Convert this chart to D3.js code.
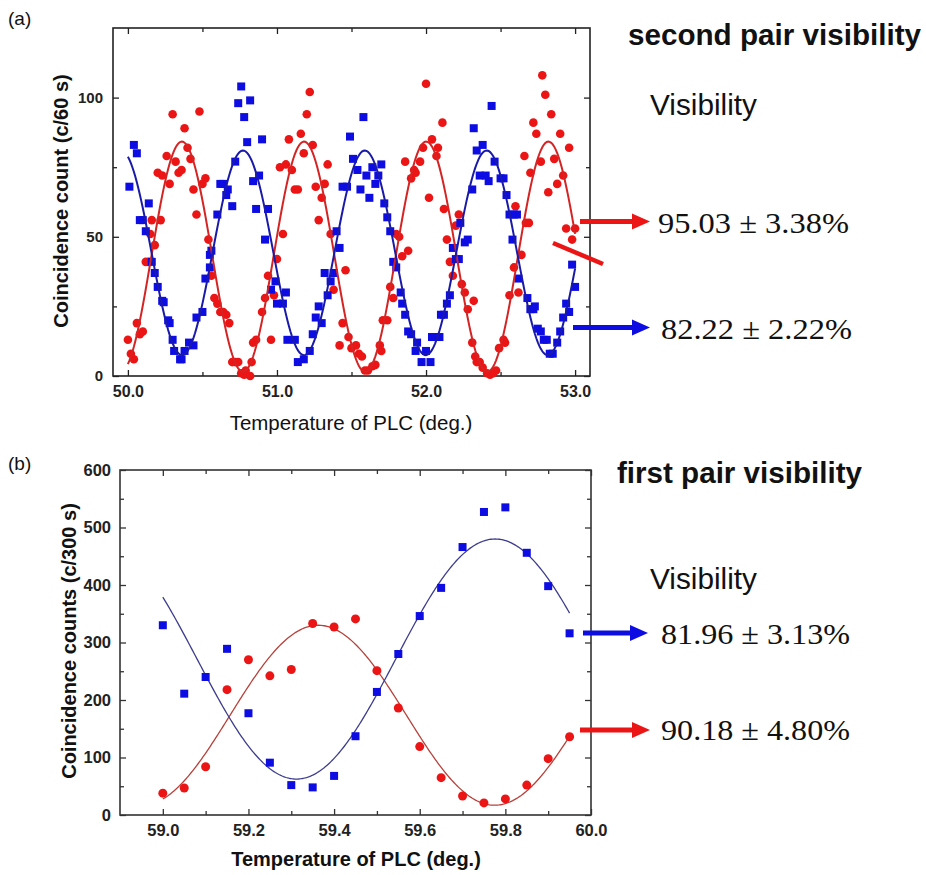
<!DOCTYPE html>
<html><head><meta charset="utf-8">
<script src="https://cdn.jsdelivr.net/npm/d3@7"></script>
<style>body{margin:0;background:#fff}svg{display:block}</style>
</head><body>
<svg id="c" width="926" height="875"></svg>
<script>
// ---------- Panel (a) data: [temperature, counts per 60 s] ----------
const aBlue = [[50.01,68],[50.04,83],[50.06,80],[50.08,56],[50.10,56],[50.12,52],[50.14,62],[50.16,41],[50.18,37],[50.20,32],[50.23,27],[50.24,26.5],[50.27,20],[50.28,19],[50.30,13],[50.31,9],[50.35,6],[50.36,6],[50.38,9],[50.41,12],[50.44,11],[50.46,21],[50.50,23],[50.52,35],[50.55,43.5],[50.55,39],[50.56,45],[50.60,58],[50.62,69],[50.64,69],[50.66,65],[50.67,67],[50.70,61],[50.72,77],[50.74,98],[50.76,104],[50.78,93],[50.80,84],[50.82,99],[50.84,70],[50.86,60],[50.88,72],[50.90,85],[50.92,49],[50.94,60],[50.96,31],[50.99,34],[51.00,26],[51.04,26],[51.06,30],[51.07,13],[51.12,13],[51.14,5],[51.18,6],[51.22,9],[51.24,15],[51.26,21],[51.28,25],[51.30,19],[51.32,37],[51.34,29],[51.36,34],[51.38,37],[51.40,52],[51.42,46],[51.44,68],[51.47,68],[51.49,86],[51.51,78],
[51.54,74],[51.56,67],[51.58,93],[51.60,72],[51.62,64],[51.64,75],[51.66,69],[51.68,72],[51.70,76],[51.72,62],[51.74,57],[51.76,52],[51.78,41],[51.80,39],[51.83,30],[51.84,26],[51.86,22],[51.88,16],[51.90,15],[51.93,9],[51.94,12],[51.97,5],[52.00,9],[52.03,5],[52.04,14],[52.06,14],[52.09,14],[52.10,22],[52.12,22],[52.14,26],[52.16,29],[52.18,46],[52.20,42],[52.22,42],[52.23,55],[52.26,48],[52.28,49],[52.31,67],[52.32,89],[52.34,81],[52.36,72],[52.38,83],[52.40,72],[52.42,70],[52.44,97],[52.46,77],[52.50,71],[52.52,71],[52.54,65],[52.56,58],[52.58,49],[52.59,58],[52.61,58],[52.62,35],[52.68,28],[52.70,24],[52.72,24],[52.73,25],[52.75,17],[52.77,16],[52.79,13],[52.81,13],[52.83,8],[52.85,8],[52.88,12],[52.90,16],[52.92,21],[52.94,26],[52.96,23],[52.98,40],[53.00,32]];

const aRed = [[50.00,13],[50.02,8],[50.04,6],[50.06,19],[50.08,15],[50.10,16],[50.12,41],[50.14,41],[50.15,51],[50.16,56],[50.18,47],[50.20,73],[50.22,56],[50.23,72],[50.26,79],[50.28,69],[50.30,94],[50.32,77],[50.34,73],[50.36,74],[50.38,89],[50.40,82],[50.42,78],[50.44,67],[50.46,58],[50.48,95],[50.50,69],[50.52,71],[50.54,49],[50.56,36],[50.58,28],[50.60,26],[50.62,23],[50.64,23],[50.66,22],[50.68,19],[50.70,5],[50.72,5],[50.74,5],[50.76,1],[50.78,0.5],[50.79,2],[50.82,0],[50.83,5],[50.84,12],[50.86,13],[50.90,23],[50.92,28],[50.94,36],[50.96,13],[50.98,29],[51.00,42],[51.02,75],[51.04,51],[51.06,76],[51.08,85],[51.10,74],[51.12,67],[51.14,67],[51.16,87],[51.18,80],[51.20,94],[51.22,102],[51.24,83],[51.26,68],[51.28,56],[51.30,64],[51.32,69],[51.34,76],[51.36,51],[51.38,31],[51.42,11],[51.44,19],[51.46,38],[51.48,14],[51.50,10],
[51.53,11],[51.55,8],[51.57,7],[51.59,2],[51.61,2],[51.64,3.5],[51.66,4],[51.69,11],[51.70,9],[51.71,20],[51.74,20],[51.76,32],[51.78,28],[51.80,51],[51.82,50],[51.84,43],[51.86,77],[51.88,45],[51.90,71],[51.92,74],[51.93,73],[51.96,77],[51.98,82],[52.00,105],[52.02,64],[52.04,85],[52.07,79],[52.08,82],[52.11,91],[52.12,60],[52.14,49],[52.16,41],[52.18,36],[52.20,54],[52.22,58],[52.24,33],[52.26,30],[52.28,24],[52.31,12],[52.32,27],[52.33,7],[52.34,5],[52.36,5],[52.38,3],[52.41,1],[52.43,0.5],[52.45,1],[52.47,2],[52.49,10],[52.52,13],[52.53,12],[52.56,29],[52.59,39],[52.60,61],[52.62,30],[52.64,43.5],[52.66,79],[52.67,55],[52.69,55],[52.70,73],[52.72,91],[52.74,87],[52.77,77],[52.78,108],[52.80,101],[52.82,66],[52.84,94],[52.86,78],[52.88,69],[52.90,87],[52.92,72],[52.94,53],[52.96,82],[52.98,49],[53.00,53]];

// Fit parameters (sinusoidal fits)
const aFitRed  = {peak: 50.362, period: 0.8197, max: 84.2, min: 1.5, from: 50.0, to: 53.0};
const aFitBlue = {peak: 50.772, period: 0.8175, max: 81.0, min: 7.5, from: 50.0, to: 53.0};

const aXTicks = [50, 51, 52, 53];
const aXMinor = [50.5, 51.5, 52.5];
const aYTicks = [0, 50, 100];
const aYMinor = [25, 75];

// ---------- Panel (b) data: counts per 300 s ----------
const bTemp = [59.00,59.05,59.10,59.15,59.20,59.25,59.30,59.35,59.40,59.45,59.50,59.55,59.60,59.65,59.70,59.75,59.80,59.85,59.90,59.95];
const bBlue = [330,211,240,289,177,91,52,48,68,137,214,280,346,395,466,527,535,456,398,316];
const bRed  = [38,47,84,218,270,242,253,333,327,341,251,186,119,65,33,21,28,52,98,136];

const bFitRed  = {peak: 59.363, period: 0.824, max: 330, min: 17, from: 59.0, to: 59.95};
const bFitBlue = {peak: 59.776, period: 0.928, max: 480, min: 62.5, from: 59.0, to: 59.95};

const bXTicks = [59.0, 59.2, 59.4, 59.6, 59.8, 60.0];
const bXMinor = [59.1, 59.3, 59.5, 59.7, 59.9];
const bYTicks = [0, 100, 200, 300, 400, 500, 600];
const bYMinor = [50, 150, 250, 350, 450, 550];

// ---------- drawing ----------
const svg = d3.select('#c');
svg.append('rect').attr('width', 926).attr('height', 875).attr('fill', '#fff');
const SANS = "'Liberation Sans', Arial, sans-serif";
const SERIF = "'Liberation Serif', 'Times New Roman', serif";
const BLUE = '#0d0de3', RED = '#ec1515';

function fitPoints(p) {
  const mid = (p.max + p.min) / 2, amp = (p.max - p.min) / 2;
  return d3.range(0, 301).map(i => {
    const x = p.from + (p.to - p.from) * i / 300;
    return [x, mid + amp * Math.cos(2 * Math.PI * (x - p.peak) / p.period)];
  });
}

function axes(x, y, o) {
  const g = svg.append('g');
  const [x0, x1] = x.range(), [y0, y1] = y.range();
  const add = (axis, tr) => {
    const a = g.append('g').attr('transform', tr).call(axis);
    a.select('.domain').remove();
    a.selectAll('line').attr('stroke', o.stroke).attr('stroke-width', 1.3);
    a.selectAll('text').attr('fill', '#222').style('font-family', SANS).style('font-weight', 'bold');
    return a;
  };
  add(d3.axisBottom(x).tickValues(o.xt).tickSize(-6).tickPadding(o.xpad).tickFormat(d3.format('.1f')), `translate(0,${y0})`)
    .selectAll('text').style('font-size', o.xfs + 'px');
  add(d3.axisBottom(x).tickValues(o.xm).tickSize(-4).tickFormat(''), `translate(0,${y0})`);
  add(d3.axisTop(x).tickValues(o.xt).tickSize(-6).tickFormat(''), `translate(0,${y1})`);
  add(d3.axisTop(x).tickValues(o.xm).tickSize(-4).tickFormat(''), `translate(0,${y1})`);
  add(d3.axisLeft(y).tickValues(o.yt).tickSize(-6).tickPadding(o.ypad).tickFormat(d3.format('d')), `translate(${x0},0)`)
    .selectAll('text').style('font-size', o.yfs + 'px');
  add(d3.axisLeft(y).tickValues(o.ym).tickSize(-4).tickFormat(''), `translate(${x0},0)`);
  add(d3.axisRight(y).tickValues(o.yt).tickSize(-6).tickFormat(''), `translate(${x1},0)`);
  add(d3.axisRight(y).tickValues(o.ym).tickSize(-4).tickFormat(''), `translate(${x1},0)`);
  g.append('rect').attr('x', x0).attr('y', y1).attr('width', x1 - x0).attr('height', y0 - y1)
    .attr('fill', 'none').attr('stroke', o.stroke).attr('stroke-width', 1.6);
}

function markers(x, y, pts, type, size, color) {
  const g = svg.append('g').attr('fill', color);
  if (type === 'square') {
    g.selectAll('rect').data(pts).join('rect')
      .attr('x', d => x(d[0]) - size / 2).attr('y', d => y(d[1]) - size / 2)
      .attr('width', size).attr('height', size);
  } else {
    g.selectAll('circle').data(pts).join('circle')
      .attr('cx', d => x(d[0])).attr('cy', d => y(d[1])).attr('r', size);
  }
}

function fit(x, y, p, color, w) {
  svg.append('path').datum(fitPoints(p))
    .attr('d', d3.line().x(d => x(d[0])).y(d => y(d[1])))
    .attr('fill', 'none').attr('stroke', color).attr('stroke-width', w);
}

function text(t, x, y, size, weight, family, extra) {
  const e = svg.append('text').attr('x', x).attr('y', y).text(t)
    .style('font-family', family).style('font-size', size + 'px').style('font-weight', weight).attr('fill', '#111');
  if (extra) extra(e);
  return e;
}
const fitLen = len => e => e.attr('textLength', len).attr('lengthAdjust', 'spacingAndGlyphs');

function arrow(x0, x1, y, color) {
  svg.append('line').attr('x1', x0).attr('x2', x1 - 14).attr('y1', y).attr('y2', y)
    .attr('stroke', color).attr('stroke-width', 5);
  svg.append('path').attr('d', `M${x1},${y} L${x1 - 18},${y - 8} L${x1 - 18},${y + 8} Z`).attr('fill', color);
}

// ----- Panel (a) -----
const xa = d3.scaleLinear().domain([49.9, 53.1]).range([113, 590]);
const ya = d3.scaleLinear().domain([0, 125]).range([376, 28]);
axes(xa, ya, {xt: aXTicks, xm: aXMinor, yt: aYTicks, ym: aYMinor, xpad: 10, ypad: 10, xfs: 16, yfs: 15, stroke: '#222'});
markers(xa, ya, aRed, 'circle', 4.3, RED);
markers(xa, ya, aBlue, 'square', 8, BLUE);
fit(xa, ya, aFitRed, '#d42424', 2);
fit(xa, ya, aFitBlue, '#1a1aa8', 2);

text('(a)', 8, 25, 19, 'normal', SANS);
text('Temperature of PLC (deg.)', 351, 430, 20.5, 'normal', SANS, e => e.attr('text-anchor', 'middle'));
text('Coincidence count (c/60 s)', 0, 0, 20, 'bold', SANS,
  e => e.attr('text-anchor', 'middle').attr('transform', 'translate(68,201) rotate(-90)'));

text('second pair visibility', 628, 45, 29, 'bold', SANS, fitLen(293));
text('Visibility', 650, 115, 29, 'normal', SANS, fitLen(107));
text('95.03 \u00B1 3.38%', 658, 233, 30, 'normal', SERIF, fitLen(191));
text('82.22 \u00B1 2.22%', 661, 339, 30, 'normal', SERIF, fitLen(191));
arrow(580, 650, 221.5, RED);
arrow(573, 650, 327.5, BLUE);
svg.append('line').attr('x1', 553).attr('y1', 243).attr('x2', 603).attr('y2', 264)
  .attr('stroke', RED).attr('stroke-width', 4.5);

// ----- Panel (b) -----
const xb = d3.scaleLinear().domain([58.9, 60.0]).range([120, 591]);
const yb = d3.scaleLinear().domain([0, 600]).range([815, 470]);
axes(xb, yb, {xt: bXTicks, xm: bXMinor, yt: bYTicks, ym: bYMinor, xpad: 9.5, ypad: 9, xfs: 16.5, yfs: 16.5, stroke: '#333'});
fit(xb, yb, bFitRed, '#b8403a', 1.3);
fit(xb, yb, bFitBlue, '#3d3d8f', 1.3);
markers(xb, yb, bTemp.map((t, i) => [t, bRed[i]]), 'circle', 4.5, RED);
markers(xb, yb, bTemp.map((t, i) => [t, bBlue[i]]), 'square', 8, BLUE);

text('(b)', 8, 470, 19, 'normal', SANS);
text('Temperature of PLC (deg.)', 356, 866, 20, 'bold', SANS, e => e.attr('text-anchor', 'middle'));
text('Coincidence counts (c/300 s)', 0, 0, 20, 'bold', SANS,
  e => e.attr('text-anchor', 'middle').attr('transform', 'translate(76,641) rotate(-90)'));

text('first pair visibility', 617, 483, 29, 'bold', SANS, fitLen(245));
text('Visibility', 650, 589, 29, 'normal', SANS, fitLen(107));
text('81.96 \u00B1 3.13%', 661, 644, 30, 'normal', SERIF, fitLen(189));
text('90.18 \u00B1 4.80%', 661, 740, 30, 'normal', SERIF, fitLen(189));
arrow(583, 648, 633, BLUE);
arrow(580, 650, 730, RED);
</script>
</body></html>
